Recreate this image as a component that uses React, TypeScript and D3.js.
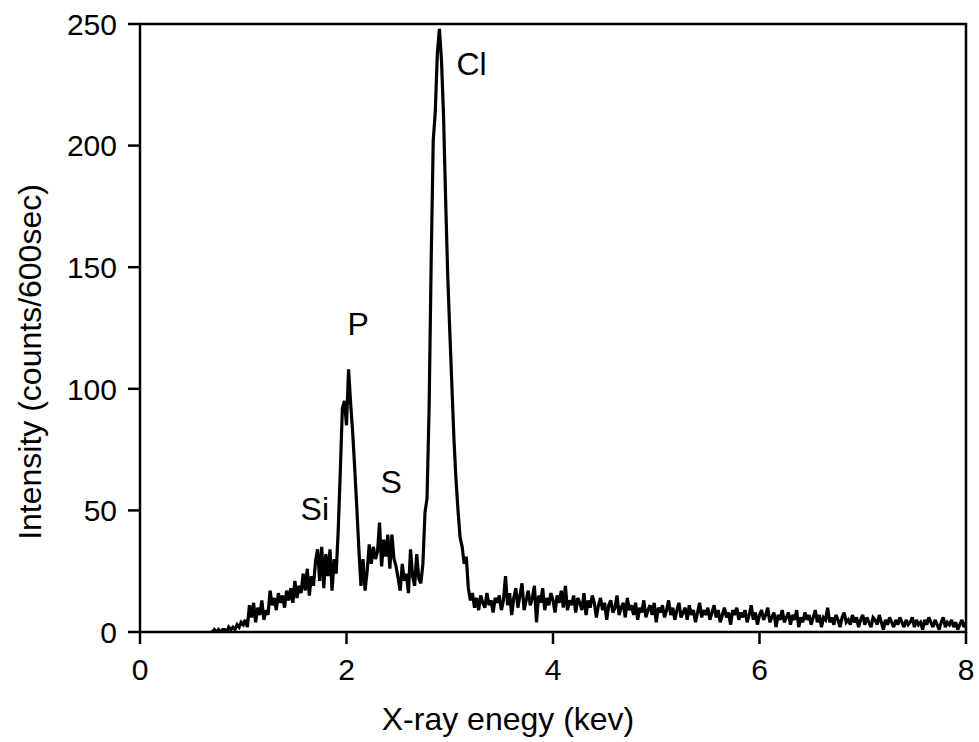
import React from "react";
import * as d3 from "d3";

// Spectrum sampled every 0.02 keV starting at 0.68 keV
const energyStart = 0.68;
const energyStep = 0.02;

const countsLow = [
  0, 0, 1, 0, 1, 0, 1, 1, 0, 2, 1, 2, // 0.68-0.90
  1, 3, 2, 4, 3, 5, 2, // 0.92-1.04
  11, 6, 12, 4, 10, 7, 13, 5, 9, 7, // 1.06-1.24
  17, 11, 14, 9, 16, 12, 15, 10, 17, 13, 18, 12, 21, // 1.26-1.50
  14, 19, 16, 24, 17, 26, 15, 23, 19, 29, // 1.52-1.70
  34, 21, 35, 18, 32, 23, 34, 17, 30, 24, // 1.72-1.90
];

const countsPeaks = [
  42, 66, 92, 95, 85, 108, 94, 82, 67, 51, 34, 19, // 1.92-2.14 (P)
  30, 17, 25, 36, 28, 35, 30, 33, 45, 27, 38, 31, 40, // 2.16-2.40 (S)
  26, 40, 30, 27, 22, 17, 28, 21, 24, 16, 34, 23, 19, 32, // 2.42-2.68
  22, 20, 28, 49, 55, 92, 152, 202, 214, 238, 248, 235, 212, 178, 147, // 2.70-2.98 (Cl)
  124, 102, 80, 63, 50, 39, 35, 28, 31, 18, 13, 16, 10, // 3.00-3.24
];

const countsTail = [
  14, 9, 15, 12, 10, 16, 11, 13, 8, 14,
  12, 15, 9, 13, 23, 11, 16, 7, 14, 18,
  10, 15, 20, 9, 13, 17, 11, 14, 19, 4,
  15, 12, 18, 9, 14, 11, 16, 13, 8, 15,
  12, 17, 10, 19, 9, 13, 11, 15, 8, 14,
  12, 9, 16, 7, 13, 10, 15, 12, 6, 11,
  14, 9, 12, 5, 11, 13, 8, 10, 15, 7,
  10, 12, 6, 14, 9, 11, 7, 12, 5, 10,
  8, 13, 6, 9, 11, 7, 12, 4, 10, 8,
  11, 6, 9, 13, 7, 10, 5, 9, 12, 6,
  8, 10, 5, 11, 7, 9, 4, 8, 12, 6,
  9, 7, 10, 5, 8, 11, 6, 9, 4, 7,
  10, 6, 8, 3, 9, 7, 10, 5, 8, 6,
  9, 4, 7, 11, 5, 8, 3, 7, 9, 5,
  7, 10, 4, 6, 8, 2, 7, 5, 9, 4,
  6, 8, 3, 7, 5, 9, 2, 6, 4, 8,
  5, 7, 3, 6, 9, 4, 7, 2, 6, 5,
  10, 4, 6, 3, 7, 5, 2, 6, 8, 4,
  5, 3, 7, 4, 6, 2, 5, 7, 3, 6,
  4, 2, 6, 5, 3, 7, 4, 1, 5, 3,
  6, 4, 2, 5, 3, 6, 4, 2, 5, 3,
  4, 6, 2, 5, 3, 4, 1, 5, 3, 6,
  4, 2, 5, 3, 1, 4, 6, 2, 4, 3,
  5, 2, 4, 1, 3, 5, 2, 4,
];

const xTicks = [0, 2, 4, 6, 8];
const yTicks = [0, 50, 100, 150, 200, 250];

const peakLabels = [
  { text: "Si", e: 1.555, v: 46 },
  { text: "S", e: 2.33, v: 57 },
  { text: "P", e: 2.01, v: 122 },
  { text: "Cl", e: 3.065, v: 229 },
];

const xTitle = "X-ray enegy (kev)";
const yTitle = "Intensity (counts/600sec)";

export default function App() {
  const W = 979;
  const H = 742;
  const left = 140, right = 966, top = 24, bottom = 632;
  const x = d3.scaleLinear().domain([0, 8]).range([left, right]);
  const y = d3.scaleLinear().domain([0, 250]).range([bottom, top]);

  const counts = [...countsLow, ...countsPeaks, ...countsTail];
  const data = counts.map((c, i) => ({ e: energyStart + i * energyStep, c }));
  const line = d3
    .line<{ e: number; c: number }>()
    .x((d) => x(d.e))
    .y((d) => y(d.c));

  const font = "'Liberation Sans', Arial, sans-serif";
  const tickLen = 12;

  return (
    <svg
      width={W}
      height={H}
      style={{ position: "absolute", left: 0, top: 0, background: "#fff" }}
      fontFamily={font}
    >
      <defs>
        <clipPath id="plotclip">
          <rect x={left} y={top - 2} width={right - left} height={bottom - top + 2} />
        </clipPath>
      </defs>
      <path
        d={line(data) || ""}
        fill="none"
        stroke="#000"
        strokeWidth={3.2}
        strokeLinejoin="miter"
        strokeMiterlimit={3}
        clipPath="url(#plotclip)"
      />
      {/* frame */}
      <rect
        x={left}
        y={top}
        width={right - left}
        height={bottom - top}
        fill="none"
        stroke="#000"
        strokeWidth={2.5}
      />
      {/* y ticks */}
      {yTicks.map((t) => (
        <g key={"y" + t}>
          <line x1={left - tickLen} x2={left} y1={y(t)} y2={y(t)} stroke="#000" strokeWidth={2.5} />
          <text x={left - 23} y={y(t)} dy="0.36em" textAnchor="end" fontSize={30} fill="#000">
            {t}
          </text>
        </g>
      ))}
      {/* x ticks */}
      {xTicks.map((t) => (
        <g key={"x" + t}>
          <line x1={x(t)} x2={x(t)} y1={bottom} y2={bottom + tickLen} stroke="#000" strokeWidth={2.5} />
          <text x={x(t)} y={680} textAnchor="middle" fontSize={30} fill="#000">
            {t}
          </text>
        </g>
      ))}
      {/* peak labels */}
      {peakLabels.map((p) => (
        <text key={p.text} x={x(p.e)} y={y(p.v)} fontSize={32} fill="#000">
          {p.text}
        </text>
      ))}
      <text x={508} y={730} textAnchor="middle" fontSize={32} fill="#000">
        {xTitle}
      </text>
      <text
        transform="translate(41,362) rotate(-90)"
        textAnchor="middle"
        fontSize={32}
        fill="#000"
      >
        {yTitle}
      </text>
    </svg>
  );
}
